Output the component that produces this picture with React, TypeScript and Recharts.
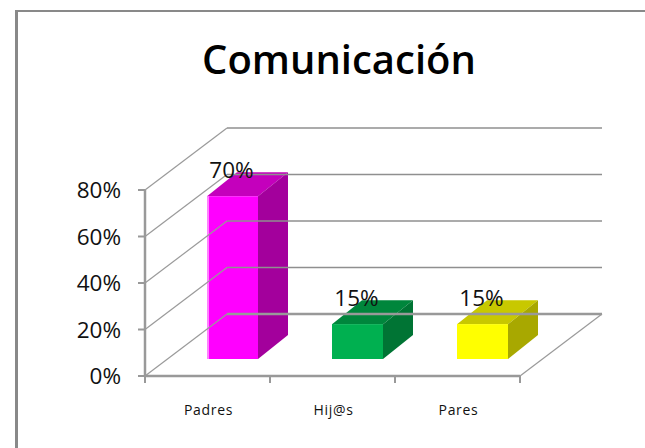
import React from "react";
import { Bar, BarChart, LabelList, XAxis, YAxis } from "recharts";

const categories = ["Padres", "Hij@s", "Pares"];
const seriesValues = [70, 15, 15];
const valueTicks = [0, 20, 40, 60, 80];

const frontColors = ["#ff00ff", "#00b050", "#ffff00"];
const edgeColors = ["#ff80ff", "#00b050", "#ffff00"];
const topColors = ["#c400bc", "#00863c", "#c8c800"];
const sideColors = ["#a3009c", "#007434", "#a8a800"];

const data = categories.map((name, i) => ({ name, value: seriesValues[i] }));

const WIDTH = 645;
const HEIGHT = 448;
const LEFT = 145;
const RIGHT_EDGE = 520;
const FLOOR_DX = 82;
const FLOOR_DY = -62;
const BAR_SHIFT_X = 25;
const BAR_SHIFT_Y = -17;
const BAR_DX = 30;
const BAR_DY = -24;
const BAND = (RIGHT_EDGE - LEFT) / categories.length;
const AXIS_GREY = "#999999";
const GRID_GREY = "#8f8f8f";
const SLANT_GREY = "#9a9a9a";
const FONT = "'Open Sans', sans-serif";

// bar with depth, library gives the front face rect
function Bar3D(props: any) {
  const { width, height, index } = props;
  const x = props.x + BAR_SHIFT_X;
  const y = props.y + BAR_SHIFT_Y;
  const top = `${x},${y} ${x + BAR_DX},${y + BAR_DY} ${x + width + BAR_DX},${y + BAR_DY} ${x + width},${y}`;
  const side = `${x + width},${y} ${x + width + BAR_DX},${y + BAR_DY} ${x + width + BAR_DX},${y + height + BAR_DY} ${x + width},${y + height}`;
  return (
    <g>
      <polygon points={top} fill={topColors[index]} />
      <polygon points={side} fill={sideColors[index]} />
      <rect x={x} y={y} width={width} height={height} fill={frontColors[index]} />
      <rect x={x} y={y} width={2} height={height} fill={edgeColors[index]} />
    </g>
  );
}

function ValueLabel(props: any) {
  const { x, y, width, value } = props;
  return (
    <text
      x={x + BAR_SHIFT_X + width / 2 - 1}
      y={y + BAR_SHIFT_Y - 18}
      textAnchor="middle"
      fontFamily={FONT}
      fontSize={22.5}
      fill="#111111"
    >
      {`${value}%`}
    </text>
  );
}

// value tick: label, tick mark, and the wall lines running to the back
function ValueTick(props: any) {
  const { y, payload } = props;
  const backX = LEFT + FLOOR_DX;
  const backY = y + FLOOR_DY;
  const isFloor = payload.value === 0;
  return (
    <g>
      <line x1={LEFT} y1={y} x2={backX} y2={backY} stroke={SLANT_GREY} strokeWidth={1.2} />
      <line
        x1={backX}
        y1={backY}
        x2={RIGHT_EDGE + FLOOR_DX}
        y2={backY}
        stroke={isFloor ? AXIS_GREY : GRID_GREY}
        strokeWidth={isFloor ? 2.5 : 1.5}
      />
      {isFloor && (
        <line x1={RIGHT_EDGE} y1={y} x2={RIGHT_EDGE + FLOOR_DX} y2={backY} stroke={SLANT_GREY} strokeWidth={1.2} />
      )}
      <line x1={LEFT - 7} y1={y} x2={LEFT} y2={y} stroke={AXIS_GREY} strokeWidth={2} />
      <text x={LEFT - 24} y={y + 8} textAnchor="end" fontFamily={FONT} fontSize={22.5} fill="#111111">
        {`${payload.value}%`}
      </text>
    </g>
  );
}

function CategoryTick(props: any) {
  const { x, y, payload, index } = props;
  return (
    <g>
      <line x1={x - BAND / 2} y1={y} x2={x - BAND / 2} y2={y + 7} stroke={AXIS_GREY} strokeWidth={2} />
      {index === categories.length - 1 && (
        <line x1={x + BAND / 2} y1={y} x2={x + BAND / 2} y2={y + 7} stroke={AXIS_GREY} strokeWidth={2} />
      )}
      <text
        x={x + 1}
        y={y + 39}
        textAnchor="middle"
        fontFamily={FONT}
        fontSize={14}
        letterSpacing={0.7}
        fill="#111111"
      >
        {payload.value}
      </text>
    </g>
  );
}

export default function App() {
  return (
    <div style={{ position: "absolute", left: 0, top: 0, width: WIDTH, height: HEIGHT, background: "#fff", overflow: "hidden" }}>
      <div
        style={{
          position: "absolute",
          left: 15,
          top: 10,
          width: WIDTH,
          height: HEIGHT,
          borderLeft: "3px solid #898989",
          borderTop: "2px solid #898989",
        }}
      />
      <div style={{ position: "absolute", left: 0, top: 0 }}>
        <BarChart
          width={WIDTH}
          height={HEIGHT}
          data={data}
          margin={{ top: 190, right: WIDTH - RIGHT_EDGE, bottom: 71, left: LEFT - 1 }}
        >
          <text x={339} y={74} textAnchor="middle" fontFamily={FONT} fontSize={40} fontWeight={600} fill="#000000">
            Comunicación
          </text>
          <XAxis
            dataKey="name"
            height={1}
            interval={0}
            tickLine={false}
            tickSize={0}
            tickMargin={0}
            tick={<CategoryTick />}
            axisLine={{ stroke: AXIS_GREY, strokeWidth: 2.5 }}
          />
          <YAxis
            width={1}
            domain={[0, 80]}
            ticks={valueTicks}
            interval={0}
            tickLine={false}
            tickSize={0}
            tickMargin={0}
            tick={<ValueTick />}
            axisLine={{ stroke: AXIS_GREY, strokeWidth: 2.5 }}
          />
          <Bar dataKey="value" barSize={51} shape={<Bar3D />} isAnimationActive={false}>
            <LabelList dataKey="value" content={<ValueLabel />} />
          </Bar>
        </BarChart>
      </div>
    </div>
  );
}
